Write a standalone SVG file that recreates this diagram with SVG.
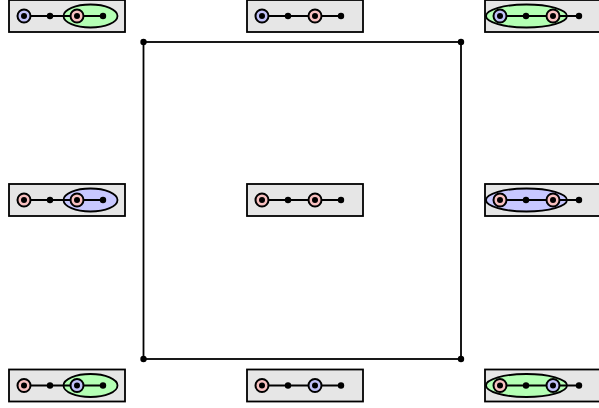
<svg xmlns="http://www.w3.org/2000/svg" width="599" height="408" viewBox="0 0 599 408">
<style>
.box{fill:#e6e6e6;stroke:#000;stroke-width:1.8}
.edge{stroke:#000;stroke-width:1.8;fill:none}
.ring{stroke:#000;stroke-width:2}
.blue{fill:#c0c0f8}
.pink{fill:#f8c0c0}
.eg{fill:#b4ffb4;stroke:#000;stroke-width:1.8}
.eb{fill:#c8c8ff;stroke:#000;stroke-width:1.8}
.dot{fill:#000}
</style>
<defs>
<g id="chain">
<line class="edge" x1="15" y1="0" x2="94" y2="0"/>
</g>
<g id="dots">
<circle class="dot" cx="15" cy="0" r="3"/>
<circle class="dot" cx="41" cy="0" r="3.2"/>
<circle class="dot" cx="68" cy="0" r="3"/>
<circle class="dot" cx="94" cy="0" r="3.2"/>
</g>
</defs>
<g id="connectors">
<rect class="edge" x="143.5" y="42" width="317.5" height="317"/>
<circle class="dot" cx="143.5" cy="42" r="3.2"/>
<circle class="dot" cx="461" cy="42" r="3.2"/>
<circle class="dot" cx="143.5" cy="359" r="3.2"/>
<circle class="dot" cx="461" cy="359" r="3.2"/>
</g>
<g id="tl" transform="translate(9,16)">
<rect class="box" x="0" y="-16" width="116" height="32"/>
<ellipse class="eg" cx="81.5" cy="0" rx="27" ry="11.5"/>
<use href="#chain"/>
<circle class="ring blue" cx="15" cy="0" r="6.5"/>
<circle class="ring pink" cx="68" cy="0" r="6.5"/>
<use href="#dots"/>
</g>
<g id="tm" transform="translate(247,16)">
<rect class="box" x="0" y="-16" width="116" height="32"/>
<use href="#chain"/>
<circle class="ring blue" cx="15" cy="0" r="6.5"/>
<circle class="ring pink" cx="68" cy="0" r="6.5"/>
<use href="#dots"/>
</g>
<g id="tr" transform="translate(485,16)">
<rect class="box" x="0" y="-16" width="116" height="32"/>
<ellipse class="eg" cx="41.5" cy="0" rx="40.5" ry="11.5"/>
<use href="#chain"/>
<circle class="ring blue" cx="15" cy="0" r="6.5"/>
<circle class="ring pink" cx="68" cy="0" r="6.5"/>
<use href="#dots"/>
</g>
<g id="ml" transform="translate(9,200)">
<rect class="box" x="0" y="-16" width="116" height="32"/>
<ellipse class="eb" cx="81.5" cy="0" rx="27" ry="11.5"/>
<use href="#chain"/>
<circle class="ring pink" cx="15" cy="0" r="6.5"/>
<circle class="ring pink" cx="68" cy="0" r="6.5"/>
<use href="#dots"/>
</g>
<g id="mm" transform="translate(247,200)">
<rect class="box" x="0" y="-16" width="116" height="32"/>
<use href="#chain"/>
<circle class="ring pink" cx="15" cy="0" r="6.5"/>
<circle class="ring pink" cx="68" cy="0" r="6.5"/>
<use href="#dots"/>
</g>
<g id="mr" transform="translate(485,200)">
<rect class="box" x="0" y="-16" width="116" height="32"/>
<ellipse class="eb" cx="41.5" cy="0" rx="40.5" ry="11.5"/>
<use href="#chain"/>
<circle class="ring pink" cx="15" cy="0" r="6.5"/>
<circle class="ring pink" cx="68" cy="0" r="6.5"/>
<use href="#dots"/>
</g>
<g id="bl" transform="translate(9,385.5)">
<rect class="box" x="0" y="-16" width="116" height="32"/>
<ellipse class="eg" cx="81.5" cy="0" rx="27" ry="11.5"/>
<use href="#chain"/>
<circle class="ring pink" cx="15" cy="0" r="6.5"/>
<circle class="ring blue" cx="68" cy="0" r="6.5"/>
<use href="#dots"/>
</g>
<g id="bm" transform="translate(247,385.5)">
<rect class="box" x="0" y="-16" width="116" height="32"/>
<use href="#chain"/>
<circle class="ring pink" cx="15" cy="0" r="6.5"/>
<circle class="ring blue" cx="68" cy="0" r="6.5"/>
<use href="#dots"/>
</g>
<g id="br" transform="translate(485,385.5)">
<rect class="box" x="0" y="-16" width="116" height="32"/>
<ellipse class="eg" cx="41.5" cy="0" rx="40.5" ry="11.5"/>
<use href="#chain"/>
<circle class="ring pink" cx="15" cy="0" r="6.5"/>
<circle class="ring blue" cx="68" cy="0" r="6.5"/>
<use href="#dots"/>
</g>
</svg>
